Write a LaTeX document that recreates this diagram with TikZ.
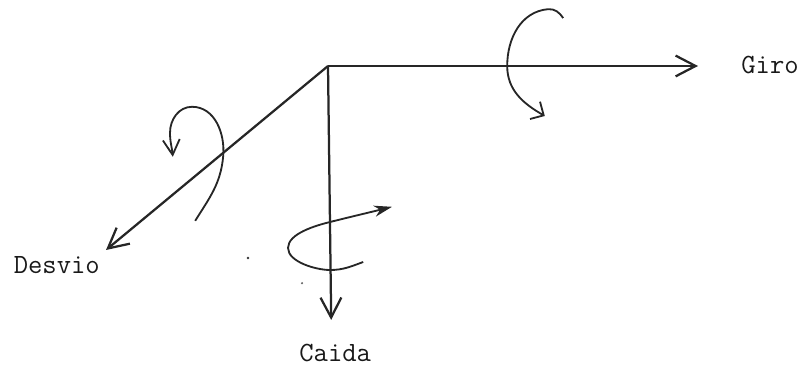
\documentclass[tikz,border=0pt]{standalone}
\usetikzlibrary{arrows.meta}

\begin{document}
\begin{tikzpicture}[
  axis/.style={draw=black!85, line width=1.6pt, -{Straight Barb[length=5mm, width=5.2mm, line width=1.6pt]}},
  curl/.style={draw=black!85, line width=1.3pt, -{Straight Barb[length=3.8mm, width=4.2mm, line width=1.3pt]}},
  smallcurl/.style={draw=black!85, line width=1.3pt, -{Straight Barb[length=2.5mm, width=5mm, line width=1.3pt]}},
  filledcurl/.style={draw=black!85, line width=1.3pt, -{Stealth[length=4.5mm, width=2.8mm]}},
  axislabel/.style={font=\ttfamily\fontsize{19.8}{22}\selectfont, text=black!90, inner sep=0pt},
]
\useasboundingbox (0, 0) rectangle (20.1, 9.3);

% === AXES ===
\coordinate (origin) at (8.2, 7.65);
\coordinate (giroend) at (17.45, 7.65);
\coordinate (caidaend) at (8.28, 1.3);
\coordinate (desvioend) at (2.65, 3.05);

\draw[axis] (origin) -- (giroend);
\draw[axis] (origin) -- (caidaend);
\draw[axis] (origin) -- (desvioend);

\node[axislabel] (giro) at (19.25, 7.68) {Giro};
\node[axislabel] (desvio) at (1.42, 2.68) {Desvio};
\node[axislabel] (caida) at (8.38, 0.48) {Caida};

% === ROTATIONS ===
\draw[smallcurl] (14.08, 8.85) to[out=125,in=5] (13.7, 9.07) to[out=185,in=90] (12.68, 7.65) to[out=270,in=150] (13.62, 6.4);
\draw[curl] (4.88, 3.78) to[out=58,in=-95] (5.58, 5.4) to[out=85,in=0] (4.8, 6.63) to[out=180,in=90] (4.25, 5.98) to[out=-90,in=95] (4.32, 5.38);
\draw[filledcurl] (9.08, 2.75) to[out=200,in=0] (8.25, 2.55) to[out=180,in=270, looseness=0.75] (7.2, 3.1) to[out=90,in=194, looseness=0.75] (8.25, 3.75) to[out=14,in=194] (9.8, 4.13);

% specks
\fill[black!80] (6.2, 2.85) circle (0.035);
\fill[black!60] (7.55, 2.22) circle (0.03);
\end{tikzpicture}
\end{document}
